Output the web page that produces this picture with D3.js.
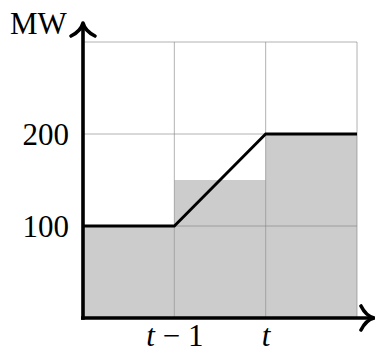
<!DOCTYPE html>
<html>
<head>
<meta charset="utf-8">
<script src="https://cdn.jsdelivr.net/npm/d3@7"></script>
<style>
  body { margin: 0; background: #fff; }
  text { font-family: "Liberation Serif", "DejaVu Serif", serif; fill: #000; }
  .grid line { stroke: #808080; stroke-opacity: 0.6; stroke-width: 1; }
  .tick text { font-size: 31px; font-family: "Liberation Serif", serif; }
</style>
</head>
<body>
<script>
var w = 375;
var h = 354;

// intervals along the time axis and the gray bar heights (MW)
var intervals = [0, 1, 2];
var barValues = [100, 150, 200];
// black line (time index, MW)
var lineX = [0, 1, 2, 3];
var lineY = [100, 100, 200, 200];
// tick labels
var yTicks = [100, 200];
var xTicks = [1, 2];
var xTickLabels = [["t", " \u2212 1"], ["t", ""]];
var yLabel = "MW";

var plotLeft = 83, plotRight = 357, plotTop = 42, plotBottom = 318;

var xScale = d3.scaleLinear().domain([0, 3]).range([plotLeft, plotRight]);
var yScale = d3.scaleLinear().domain([0, 300]).range([plotBottom, plotTop]);

var svg = d3.select("body").append("svg")
    .attr("width", w)
    .attr("height", h);

//Gray bars
svg.selectAll("rect.bar")
    .data(intervals)
    .enter()
    .append("rect")
    .attr("class", "bar")
    .attr("x", function(d) { return xScale(d); })
    .attr("width", function(d) { return xScale(d + 1) - xScale(d); })
    .attr("y", function(d, i) { return yScale(barValues[i]); })
    .attr("height", function(d, i) { return yScale(0) - yScale(barValues[i]); })
    .attr("fill", "#cccccc");

//Grid
var grid = svg.append("g").attr("class", "grid");
grid.selectAll("line.v")
    .data([1, 2, 3])
    .enter().append("line")
    .attr("x1", function(d) { return xScale(d); })
    .attr("x2", function(d) { return xScale(d); })
    .attr("y1", yScale(0))
    .attr("y2", yScale(300));
grid.selectAll("line.h")
    .data([100, 200, 300])
    .enter().append("line")
    .attr("x1", xScale(0))
    .attr("x2", xScale(3))
    .attr("y1", function(d) { return yScale(d); })
    .attr("y2", function(d) { return yScale(d); });

//Black line
var line = d3.line()
    .x(function(d, i) { return xScale(lineX[i]); })
    .y(function(d) { return yScale(d); });
svg.append("path")
    .datum(lineY)
    .attr("d", line)
    .attr("fill", "none")
    .attr("stroke", "#000")
    .attr("stroke-width", 2.8)
    .attr("stroke-linejoin", "miter");

//Y axis tick labels
var yAxis = d3.axisLeft(yScale).tickValues(yTicks).tickSize(0).tickPadding(14);
var gy = svg.append("g")
    .attr("transform", "translate(" + plotLeft + ",0)")
    .call(yAxis);
gy.select(".domain").remove();
gy.selectAll(".tick text").attr("dy", "0.34em");

//X axis tick labels
var xAxis = d3.axisBottom(xScale).tickValues(xTicks).tickSize(0).tickPadding(6).tickFormat("");
var gx = svg.append("g")
    .attr("transform", "translate(0," + plotBottom + ")")
    .call(xAxis);
gx.select(".domain").remove();
gx.selectAll(".tick text")
    .attr("dy", "0.71em")
    .each(function(d, i) {
        var t = d3.select(this);
        t.append("tspan").style("font-style", "italic").text(xTickLabels[i][0]);
        if (xTickLabels[i][1]) t.append("tspan").text(xTickLabels[i][1]);
    });

//Axis arrows
var axisStroke = 3.6;
svg.append("line")
    .attr("x1", plotLeft).attr("x2", plotLeft)
    .attr("y1", plotBottom + 1.8).attr("y2", 24)
    .attr("stroke", "#000").attr("stroke-width", axisStroke);
svg.append("line")
    .attr("x1", plotLeft - 2).attr("x2", 372)
    .attr("y1", plotBottom).attr("y2", plotBottom)
    .attr("stroke", "#000").attr("stroke-width", axisStroke);

svg.append("path")
    .attr("d", "M" + (plotLeft - 12) + ",36 Q" + (plotLeft - 2) + ",31 " + plotLeft + ",23 Q" + (plotLeft + 2) + ",31 " + (plotLeft + 12) + ",36")
    .attr("fill", "none").attr("stroke", "#000").attr("stroke-width", axisStroke)
    .attr("stroke-linecap", "round").attr("stroke-linejoin", "round");
svg.append("path")
    .attr("d", "M361," + (plotBottom - 12) + " Q366," + (plotBottom - 2) + " 374," + plotBottom + " Q366," + (plotBottom + 2) + " 361," + (plotBottom + 12))
    .attr("fill", "none").attr("stroke", "#000").attr("stroke-width", axisStroke)
    .attr("stroke-linecap", "round").attr("stroke-linejoin", "round");

//Y label
svg.append("text")
    .attr("x", 10)
    .attr("y", 34)
    .style("font-size", "31px")
    .text(yLabel);
</script>
</body>
</html>
